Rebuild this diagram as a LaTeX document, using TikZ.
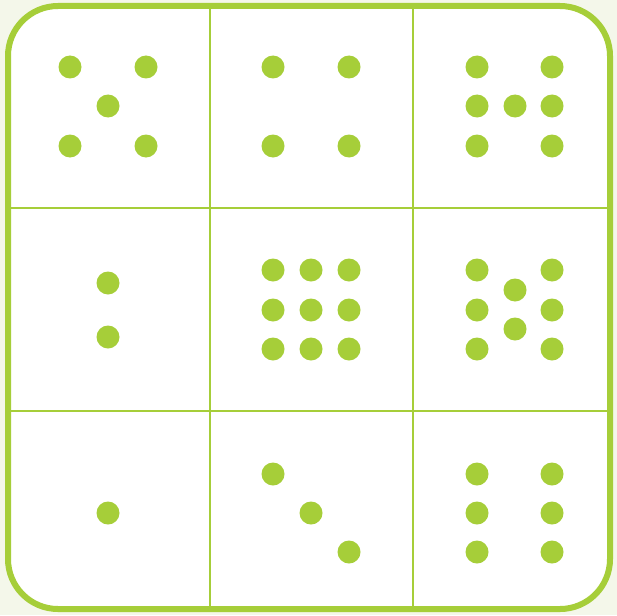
\documentclass[tikz,border=0pt]{standalone}
\usepackage{tikz}
\usetikzlibrary{positioning}
\definecolor{lime}{HTML}{A6CE39}
\definecolor{paper}{HTML}{F4F7EA}
\tikzset{every picture/.append style={thick}}

\begin{document}
\begin{tikzpicture}[x=1pt, y=-1pt, dot/.style={fill=lime}]
    % Background (fixes the page size)
    \fill[paper] (0,0) rectangle (617,615);
    \useasboundingbox (0,0) rectangle (617,615);

    % Rounded frame
    \filldraw[fill=white, draw=lime, line width=6pt, rounded corners=50pt] (8,6) rectangle (610,609);

    % Grid lines
    \foreach \x in {210,413} {
        \draw[lime, line width=2pt] (\x,9) -- (\x,606);
    }
    \foreach \y in {208,411} {
        \draw[lime, line width=2pt] (11,\y) -- (607,\y);
    }

    % Top row
    \foreach \p in {(70,67),(146,67),(108,106),(70,146),(146,146)}
        \fill[dot] \p circle (11.5);
    \foreach \p in {(273,67),(349,67),(273,146),(349,146)}
        \fill[dot] \p circle (11.5);
    \foreach \p in {(477,67),(552,67),(477,106),(515,106),(552,106),(477,146),(552,146)}
        \fill[dot] \p circle (11.5);

    % Middle row
    \foreach \p in {(108,283),(108,337)}
        \fill[dot] \p circle (11.5);
    \foreach \x in {273,311,349} {
        \foreach \y in {270,310,349} {
            \fill[dot] (\x,\y) circle (11.5);
        }
    }
    \foreach \p in {(477,270),(552,270),(477,310),(552,310),(477,349),(552,349),(515,290),(515,329)}
        \fill[dot] \p circle (11.5);

    % Bottom row
    \fill[dot] (108,513) circle (11.5);
    \foreach \p in {(273,474),(311,513),(349,552)}
        \fill[dot] \p circle (11.5);
    \foreach \x in {477,552} {
        \foreach \y in {474,513,552} {
            \fill[dot] (\x,\y) circle (11.5);
        }
    }
\end{tikzpicture}
\end{document}
